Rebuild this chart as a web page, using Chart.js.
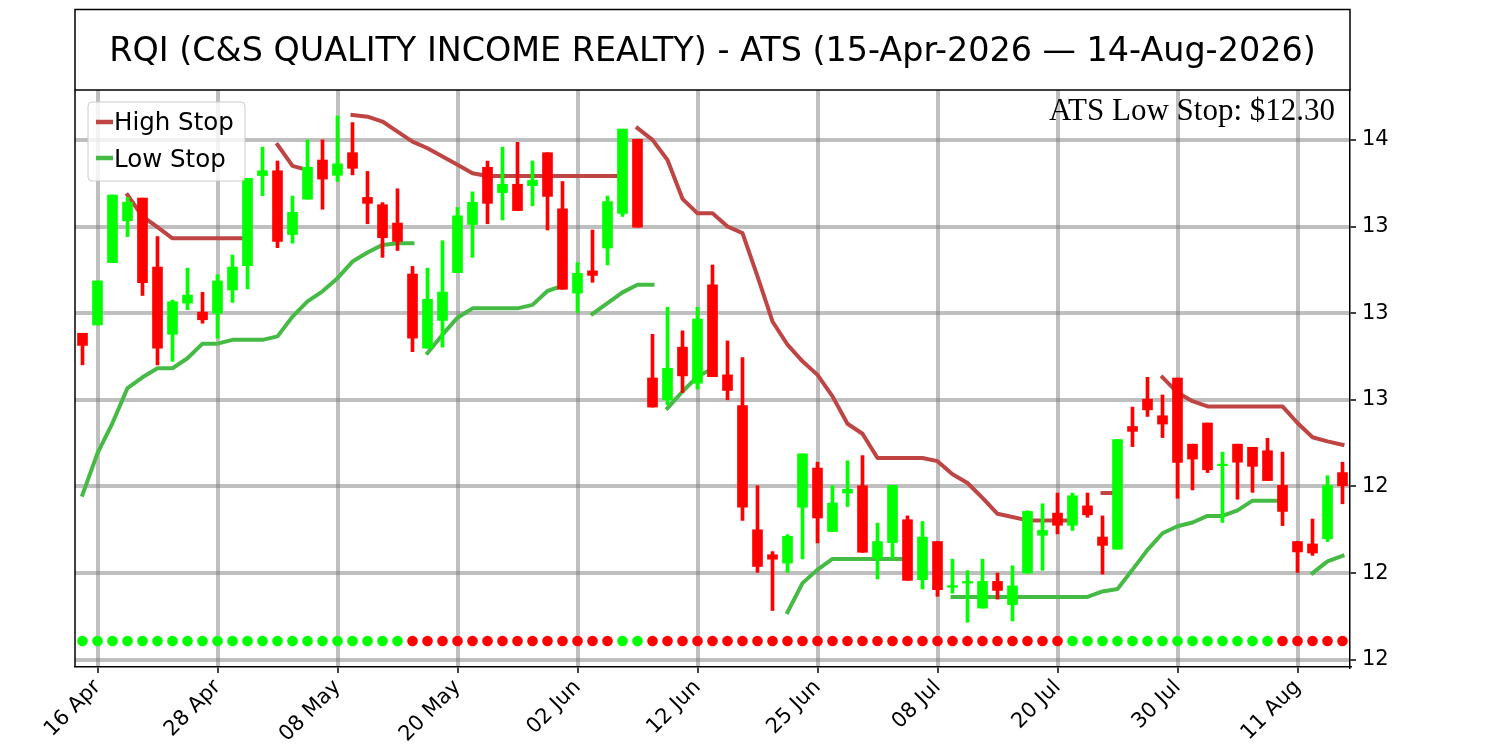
<!DOCTYPE html>
<html>
<head>
<meta charset="utf-8">
<title>RQI ATS</title>
<script src="https://cdn.jsdelivr.net/npm/chart.js@4.4.1/dist/chart.umd.min.js"></script>
<style>
  html, body { margin: 0; padding: 0; background: #fff; }
  canvas { display: block; }
</style>
</head>
<body>
<canvas id="chart" width="1500" height="750"></canvas>
<script>
const titleText = 'RQI (C&S QUALITY INCOME REALTY) - ATS (15-Apr-2026 \u2014 14-Aug-2026)';

// trading days
const dates = [
  '2026-04-15','2026-04-16','2026-04-17','2026-04-20','2026-04-21','2026-04-22','2026-04-23','2026-04-24','2026-04-27','2026-04-28','2026-04-29','2026-04-30',
  '2026-05-01','2026-05-04','2026-05-05','2026-05-06','2026-05-07','2026-05-08','2026-05-11','2026-05-12','2026-05-13','2026-05-14','2026-05-15','2026-05-18','2026-05-19','2026-05-20','2026-05-21','2026-05-22','2026-05-26','2026-05-27','2026-05-28','2026-05-29',
  '2026-06-01','2026-06-02','2026-06-03','2026-06-04','2026-06-05','2026-06-08','2026-06-09','2026-06-10','2026-06-11','2026-06-12','2026-06-15','2026-06-16','2026-06-17','2026-06-18','2026-06-22','2026-06-23','2026-06-24','2026-06-25','2026-06-26','2026-06-29','2026-06-30',
  '2026-07-01','2026-07-02','2026-07-06','2026-07-07','2026-07-08','2026-07-09','2026-07-10','2026-07-13','2026-07-14','2026-07-15','2026-07-16','2026-07-17','2026-07-20','2026-07-21','2026-07-22','2026-07-23','2026-07-24','2026-07-27','2026-07-28','2026-07-29','2026-07-30','2026-07-31',
  '2026-08-03','2026-08-04','2026-08-05','2026-08-06','2026-08-07','2026-08-10','2026-08-11','2026-08-12','2026-08-13','2026-08-14'
];

const opens = [
  12.942, 12.966, 13.146, 13.267, 13.332, 13.133, 12.939, 13.029, 13.003, 13.000,
  13.067, 13.137, 13.397, 13.411, 13.227, 13.329, 13.442, 13.398, 13.463, 13.334,
  13.313, 13.260, 13.113, 12.899, 12.979, 13.117, 13.256, 13.421, 13.348, 13.372,
  13.368, 13.463, 13.301, 13.058, 13.122, 13.188, 13.288, 13.502, 12.813, 12.750,
  12.902, 12.798, 13.082, 12.822, 12.733, 12.375, 12.303, 12.279, 12.440, 12.553,
  12.370, 12.481, 12.502, 12.293, 12.338, 12.404, 12.231, 12.341, 12.209, 12.221,
  12.149, 12.226, 12.159, 12.250, 12.359, 12.423, 12.388, 12.444, 12.354, 12.319,
  12.673, 12.752, 12.704, 12.813, 12.622, 12.683, 12.560, 12.622, 12.613, 12.603,
  12.503, 12.341, 12.334, 12.349, 12.540
];
const highs = [
  12.942, 13.093, 13.341, 13.334, 13.332, 13.221, 13.038, 13.130, 13.060, 13.111,
  13.168, 13.389, 13.479, 13.439, 13.338, 13.500, 13.500, 13.569, 13.550, 13.409,
  13.319, 13.359, 13.135, 13.130, 13.209, 13.305, 13.350, 13.439, 13.479, 13.493,
  13.439, 13.463, 13.380, 13.146, 13.240, 13.338, 13.531, 13.502, 12.939, 13.017,
  12.949, 13.017, 13.139, 12.920, 12.872, 12.502, 12.312, 12.361, 12.594, 12.570,
  12.502, 12.574, 12.589, 12.394, 12.503, 12.415, 12.399, 12.341, 12.290, 12.257,
  12.290, 12.250, 12.271, 12.430, 12.450, 12.481, 12.481, 12.481, 12.415, 12.635,
  12.729, 12.815, 12.764, 12.813, 12.622, 12.683, 12.599, 12.622, 12.613, 12.639,
  12.599, 12.341, 12.406, 12.531, 12.570
];
const lows = [
  12.851, 12.966, 13.146, 13.221, 13.051, 12.851, 12.861, 13.010, 12.971, 12.928,
  13.031, 13.070, 13.339, 13.189, 13.202, 13.329, 13.300, 13.380, 13.399, 13.258,
  13.161, 13.181, 12.889, 12.899, 12.902, 13.117, 13.161, 13.258, 13.269, 13.296,
  13.310, 13.240, 13.069, 13.002, 13.089, 13.139, 13.279, 13.248, 12.729, 12.736,
  12.771, 12.781, 12.817, 12.750, 12.402, 12.252, 12.142, 12.252, 12.291, 12.337,
  12.370, 12.442, 12.310, 12.233, 12.293, 12.229, 12.204, 12.183, 12.192, 12.108,
  12.149, 12.175, 12.112, 12.250, 12.258, 12.363, 12.373, 12.411, 12.247, 12.319,
  12.615, 12.702, 12.641, 12.466, 12.490, 12.540, 12.396, 12.463, 12.483, 12.517,
  12.387, 12.252, 12.301, 12.341, 12.450
];
const closes = [
  12.907, 13.093, 13.341, 13.320, 13.088, 12.899, 13.033, 13.052, 12.981, 13.093,
  13.133, 13.389, 13.411, 13.207, 13.291, 13.421, 13.387, 13.431, 13.418, 13.317,
  13.218, 13.207, 12.928, 13.040, 13.061, 13.281, 13.320, 13.317, 13.372, 13.296,
  13.383, 13.337, 13.069, 13.115, 13.109, 13.322, 13.531, 13.248, 12.729, 12.841,
  12.819, 12.983, 12.817, 12.777, 12.440, 12.269, 12.290, 12.356, 12.594, 12.409,
  12.452, 12.492, 12.310, 12.341, 12.503, 12.229, 12.354, 12.202, 12.214, 12.226,
  12.226, 12.200, 12.213, 12.428, 12.373, 12.388, 12.473, 12.418, 12.330, 12.635,
  12.659, 12.721, 12.680, 12.569, 12.579, 12.548, 12.564, 12.570, 12.558, 12.517,
  12.428, 12.311, 12.308, 12.503, 12.502
];

const highStop = [
  null, null, null, 13.341, 13.279, 13.248, 13.216, 13.216, 13.216, 13.216,
  13.216, 13.216, null, 13.486, 13.425, 13.413, null, null, 13.572, 13.567,
  13.553, 13.524, 13.495, 13.476, 13.452, 13.428, 13.404, 13.396, 13.396, 13.396,
  13.396, 13.396, 13.396, 13.396, 13.396, 13.396, 13.396, 13.534, 13.500, 13.442,
  13.330, 13.288, 13.288, 13.250, 13.231, 13.106, 12.976, 12.909, 12.861, 12.822,
  12.760, 12.681, 12.652, 12.582, 12.582, 12.582, 12.582, 12.573, 12.535, 12.510,
  12.467, 12.421, 12.412, 12.402, 12.402, 12.402, 12.402, null, 12.481, 12.481,
  null, null, 12.815, 12.771, 12.746, 12.731, 12.731, 12.731, 12.731, 12.731,
  12.731, 12.683, 12.642, 12.630, 12.620
];
const lowStop = [
  12.476, 12.596, 12.683, 12.784, 12.815, 12.841, 12.841, 12.870, 12.912, 12.912,
  12.923, 12.923, 12.923, 12.933, 12.990, 13.034, 13.063, 13.101, 13.149, 13.175,
  13.197, 13.202, 13.202, 12.885, 12.938, 12.987, 13.014, 13.014, 13.014, 13.014,
  13.024, 13.064, 13.079, null, 12.998, 13.029, 13.060, 13.082, 13.082, 12.726,
  12.774, 12.817, 12.840, null, null, null, null, 12.137, 12.221, 12.260,
  12.291, 12.291, 12.291, 12.291, 12.291, 12.291, null, null, 12.181, 12.181,
  12.181, 12.181, 12.181, 12.181, 12.181, 12.181, 12.181, 12.181, 12.197, 12.204,
  12.260, 12.317, 12.365, 12.385, 12.396, 12.415, 12.415, 12.431, 12.459, 12.459,
  12.459, null, 12.250, 12.284, 12.300
];
// a new stop segment starts right after these indices (no line drawn across)
const highStopBreaks = [36];
const lowStopBreaks = [22, 38];

// 1 = up trend (green dot), -1 = down trend (red dot)
const trend = [
  1, 1, 1, 1, 1, 1, 1, 1, 1, 1, 1, 1, 1, 1, 1, 1, 1, 1, 1, 1, 1, 1,
  -1, -1, -1, -1, -1, -1, -1, -1, -1, -1, -1, -1, -1, -1,
  1, 1,
  -1, -1, -1, -1, -1, -1, -1, -1, -1, -1, -1, -1, -1, -1, -1, -1, -1, -1, -1, -1, -1, -1, -1, -1, -1, -1, -1, -1,
  1, 1, 1, 1, 1, 1, 1, 1, 1, 1, 1, 1, 1, 1,
  -1, -1, -1, -1, -1
];
const trendDotLevel = 12.054;

const xTickDates = ['2026-04-16','2026-04-28','2026-05-08','2026-05-20','2026-06-02','2026-06-12','2026-06-25','2026-07-08','2026-07-20','2026-07-30','2026-08-11'];
const xTickLabels = ['16 Apr','28 Apr','08 May','20 May','02 Jun','12 Jun','25 Jun','08 Jul','20 Jul','30 Jul','11 Aug'];
const yTickValues = [12.0, 12.25, 12.5, 12.75, 13.0, 13.25, 13.5];
const yTickLabels = ['12', '12', '12', '13', '13', '13', '14'];

const UP = '#00ff00';
const DOWN = '#ff0000';
const HIGH_COLOR = '#bf4545';
const LOW_COLOR = '#45bb45';
const GRID = 'rgba(128,128,128,0.5)';

const xTickIdx = xTickDates.map(d => dates.indexOf(d));
const candleColors = dates.map((d, i) => closes[i] >= opens[i] ? UP : DOWN);

const wicks = dates.map((d, i) => ({ x: i, y: [lows[i], highs[i]] }));
const bodies = dates.map((d, i) => ({ x: i, y: [opens[i], closes[i]] }));
const toPoints = arr => arr.map((v, i) => ({ x: i, y: v }));

function breakSeg(breaks, color) {
  return ctx => breaks.includes(ctx.p0DataIndex) ? 'rgba(0,0,0,0)' : color;
}

const frame = {
  id: 'frame',
  beforeDraw(chart) {
    const c = chart.ctx;
    c.save();
    c.fillStyle = '#fff';
    c.fillRect(0, 0, chart.width, chart.height);
    c.restore();
  },
  afterDraw(chart) {
    const c = chart.ctx;
    const a = chart.chartArea;
    c.save();
    // left spine + title box
    c.strokeStyle = '#000';
    c.lineWidth = 1.5;
    c.beginPath();
    c.moveTo(a.left, a.top);
    c.lineTo(a.left, a.bottom);
    c.stroke();
    c.strokeRect(a.left, 9.5, a.right - a.left, a.top - 9.5);

    c.fillStyle = '#000';
    c.font = '33.4px "DejaVu Sans"';
    c.textAlign = 'center';
    c.textBaseline = 'alphabetic';
    c.fillText(titleText, (a.left + a.right) / 2, 61);

    c.font = '31px "Liberation Serif"';
    c.textAlign = 'right';
    c.fillText('ATS Low Stop: $' + lowStop[lowStop.length - 1].toFixed(2), a.right - 15, 120);

    // legend
    const lx = 88, ly = 102, lw = 157, lh = 79, r = 4;
    c.beginPath();
    c.moveTo(lx + r, ly);
    c.arcTo(lx + lw, ly, lx + lw, ly + lh, r);
    c.arcTo(lx + lw, ly + lh, lx, ly + lh, r);
    c.arcTo(lx, ly + lh, lx, ly, r);
    c.arcTo(lx, ly, lx + lw, ly, r);
    c.closePath();
    c.fillStyle = 'rgba(255,255,255,0.8)';
    c.fill();
    c.strokeStyle = '#cccccc';
    c.lineWidth = 1;
    c.stroke();

    const items = [['High Stop', HIGH_COLOR, 122, 130], ['Low Stop', LOW_COLOR, 158, 166.5]];
    c.font = '24.5px "DejaVu Sans"';
    c.textAlign = 'left';
    items.forEach(([label, color, yl, yt]) => {
      c.strokeStyle = color;
      c.lineWidth = 4.5;
      c.beginPath();
      c.moveTo(96, yl);
      c.lineTo(113, yl);
      c.stroke();
      c.fillStyle = '#000';
      c.fillText(label, 114, yt);
    });
    c.restore();
  }
};

new Chart(document.getElementById('chart'), {
  type: 'bar',
  data: {
    datasets: [
      {
        type: 'bar',
        data: bodies,
        backgroundColor: candleColors,
        borderWidth: 0,
        barThickness: 10,
        grouped: false,
        minBarLength: 1.5,
        order: 0
      },
      {
        type: 'bar',
        data: wicks,
        backgroundColor: candleColors,
        borderWidth: 0,
        barThickness: 3,
        grouped: false,
        order: 1
      },
      {
        type: 'line',
        label: 'High Stop',
        data: toPoints(highStop),
        borderColor: HIGH_COLOR,
        borderWidth: 4,
        borderCapStyle: 'square',
        borderJoinStyle: 'round',
        pointRadius: 0,
        spanGaps: false,
        segment: { borderColor: breakSeg(highStopBreaks, HIGH_COLOR) },
        order: 2
      },
      {
        type: 'line',
        label: 'Low Stop',
        data: toPoints(lowStop),
        borderColor: LOW_COLOR,
        borderWidth: 4,
        borderCapStyle: 'square',
        borderJoinStyle: 'round',
        pointRadius: 0,
        spanGaps: false,
        segment: { borderColor: breakSeg(lowStopBreaks, LOW_COLOR) },
        order: 3
      },
      {
        type: 'line',
        label: 'Trend',
        data: dates.map((d, i) => ({ x: i, y: trendDotLevel })),
        showLine: false,
        pointRadius: 5.3,
        pointBorderWidth: 0,
        pointBackgroundColor: trend.map(t => t > 0 ? UP : DOWN),
        order: 4
      }
    ]
  },
  options: {
    responsive: false,
    animation: false,
    layout: { padding: { left: 75, top: 90, right: 0, bottom: 0 } },
    plugins: {
      legend: { display: false },
      tooltip: { enabled: false },
      title: { display: false }
    },
    scales: {
      x: {
        type: 'linear',
        position: 'bottom',
        offset: false,
        min: -0.5,
        max: dates.length - 0.5,
        z: 1,
        afterBuildTicks: s => { s.ticks = xTickIdx.map(v => ({ value: v })); },
        afterFit: s => { s.height = 83; },
        ticks: {
          autoSkip: false,
          minRotation: 45,
          maxRotation: 45,
          padding: 2,
          color: '#000',
          font: { family: 'DejaVu Sans', size: 21 },
          callback: (v, i) => xTickLabels[i]
        },
        grid: { offset: false, color: GRID, lineWidth: 4, tickColor: '#000', tickWidth: 1.5, tickLength: 6 },
        border: { display: true, color: '#000', width: 1.5 }
      },
      y: {
        type: 'linear',
        position: 'right',
        min: 11.979,
        max: 13.644,
        z: 1,
        afterBuildTicks: s => { s.ticks = yTickValues.map(v => ({ value: v })); },
        afterFit: s => { s.width = 150; },
        ticks: {
          padding: 6,
          color: '#000',
          font: { family: 'DejaVu Sans', size: 21 },
          callback: (v, i) => yTickLabels[i]
        },
        grid: { color: GRID, lineWidth: 4, tickColor: '#000', tickWidth: 1.5, tickLength: 6 },
        border: { display: true, color: '#000', width: 1.5 }
      }
    }
  },
  plugins: [frame]
});
</script>
</body>
</html>
